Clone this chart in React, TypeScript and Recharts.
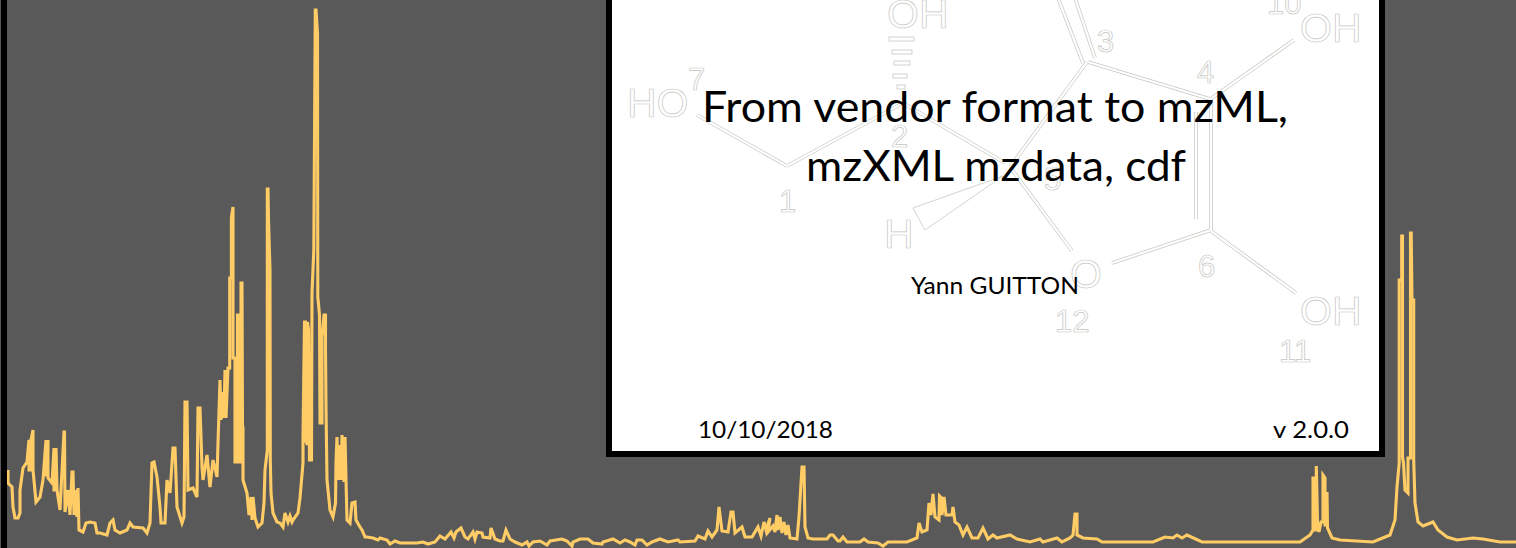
import React from "react";
import { LineChart, Line, XAxis, YAxis } from "recharts";

// Chromatogram trace: scan position and signal intensity.
const scansEarly = [8,8,12,13,15,18,20,20,23,27,29,29,31,31,33,33,36,40,43,46,46,48,48,48,52,54,54,56,56,57,60,64,64.5,65,68,70,72,73,74,76,77,78,79];
const signalEarly = [71,58,54,34,23,23,28,51,73,79,101,71,71,101,111,71,39,44,61,101,66,66,101,63,58,93,51,51,93,51,31,109,109,29,51,26,69,69,26,51,24,53,11];
const scansValley = [83,86,90,95,97,100,107,110,113,115,120,127,130,133,143,147,150,152,154,157,160,161,165,167,170,173,175,177,182,184];
const signalValley = [9,18,19,18,8,8,6,18,21,11,8,11,18,14,13,8,18,78,79,64,34,18,18,61,48,93,93,34,18,24];
const scansRise = [185,187,188,193,197,198,200,202,203,207,210,213,217,218];
const signalRise = [139,139,51,53,44,133,133,74,61,86,54,81,64,98];
const scansPeakA = [220,221,223,224,225,226,228,229.7,229.7,231.4,231.4,233,233,235,235,237.5,237.5,239,239,241,241,242,242.5,243];
const signalPeakA = [161,121,149,123,171,123,173,173,263,263,323,334,183,183,79,79,226,226,79,79,258,258,113,113];
const scansPeakB = [243,247,249,251,252,253,255,258,262,264,265,267.3,267.3,268,268.5,270,270.3,271,273,277,280,283,285,288,290,292,293,298,300,303];
const signalPeakB = [61,48,26,44,21,44,23,14,18,38,71,91,352,352,321,271,81,48,28,19,18,14,28,19,25,19,21,28,43,78];
const scansPeakC = [303,304.5,305.5,305.5,307.5,307.5,308.5,309.5,311.5,312,313.8,315.3,316,317.5,317.8,319.5,320,322,322,324,325.5,325.5,326,327,330,333,335.5,336,337,338,340,341,342,344,345,346,347];
const signalPeakC = [103,219,219,101,96,219,211,81,81,248,291,531,531,508,244,226,118,118,204,226,226,193,134,61,31,24,38,79,104,61,96,61,106,59,104,61,21];
const scansMiddle = [350,352,355,356,360,362,365,367,373,378,380,387,390,395,400,410,417,423,428,435,440,445,451,454,456,461,465,468,473,475,477,482,483,490,491,495,500,503,506,510,515,522,527,529,533,540,547,550,562,567,572,573,580,588,593,602,603,613,620,625,630,635,637,642,647,652,660,668,678,680,695,698,705,708,712,717,719,722,728,731,733,735,742,745,752,758,761,764,766,770,768,773,775,777,778,780,782,784,786,788,790,797,799,802,804,805,808,813,827,830,833,838];
const signalMiddle = [18,38,39,21,14,11,4,4,3,1,3,1,-3,0,-2,-2,-2,-1,-3,-1,5,2,9,3,9,13,4,2,9,2,9,8,4,3,13,2,0,0,11,2,-1,-4,-1,-5,-1,0,-4,0,2,0,-5,-1,2,2,-2,-3,-1,2,-2,1,-1,-4,1,1,-4,-1,2,-1,1,-1,0,5,2,10,4,11,34,10,9,29,29,8,14,4,4,14,5,19,11,23,9,15,9,26,11,24,8,19,6,16,3,2,24,74,74,14,3,2,2,6,6,0];
const scansLate = [840,843,847,860,864,868,878,883,888,907,917,919,922,927,929,931,933,935,939,939.5,941.5,942,944,946,952,953,955,959,963,967,972,978,983,988,993,997,1010,1017,1030,1040,1043,1057,1062,1070,1073,1075,1077,1077,1083,1097,1102,1153,1165,1173,1177,1182,1187,1202,1300,1310,1313,1313,1315,1315,1316.3,1316.3,1317.5,1319,1321,1323,1323,1325,1325,1327,1327,1327.5,1332,1340];
const signalLate = [0,4,-1,-1,2,-1,-2,-5,-1,-1,3,18,9,11,38,26,47,24,21,45,43,26,44,26,26,34,19,16,6,14,3,3,13,2,6,3,6,2,-1,2,-1,3,-1,3,6,27,27,6,3,2,-1,-1,4,3,6,3,6,-1,-1,6,11,63,63,11,11,75,19,9,19,19,66,63,16,16,49,13,3,1];
const scansEnd = [1373,1390,1395,1397,1399.2,1399.2,1401.7,1401.7,1402.5,1402.5,1403.5,1405,1408,1408,1410.5,1410.5,1411.2,1412,1413.7,1413.7,1415,1418,1423,1433,1438,1447,1457,1473,1483,1500,1516];
const signalEnd = [-1,6,21,54,78,261,261,305,305,84,78,51,48,83,83,308,308,241,241,81,38,19,15,19,11,4,1,3,2,-1,-1];

const scans = [...scansEarly, ...scansValley, ...scansRise, ...scansPeakA, ...scansPeakB, ...scansPeakC, ...scansMiddle, ...scansLate, ...scansEnd];
const signal = [...signalEarly, ...signalValley, ...signalRise, ...signalPeakA, ...signalPeakB, ...signalPeakC, ...signalMiddle, ...signalLate, ...signalEnd];
const trace = scans.map((scan, i) => ({ scan, intensity: signal[i] }));

// Title slide text.
const titleLines = ["From vendor format to mzML,", "mzXML mzdata, cdf"];
const author = "Yann GUITTON";
const dateLabel = "10/10/2018";
const versionLabel = "v 2.0.0";

// Molecule drawing behind the title (decorative, hollow outlines).
const bonds: number[][] = [
  [697, 115, 787, 166], [787, 166, 903, 103], [903, 103, 1005, 163], [1010, 167, 1087, 62],
  [1083, 63, 1058, -2], [1095, 58, 1075, -2], [1088, 62, 1210, 99], [1212, 98, 1294, 40],
  [1211, 99, 1211, 230], [1196, 112, 1196, 219], [1211, 230, 1112, 263], [1211, 231, 1296, 293],
  [1010, 167, 1072, 251],
];
const hashes: number[][] = [[889, 39, 914], [892, 52, 912], [894, 63, 910], [893, 76, 907], [897, 87, 905]];
const atoms: [string, number, number][] = [
  ["HO", 627, 117], ["OH", 887, 28], ["OH", 1300, 42], ["OH", 1300, 325], ["H", 884, 248], ["O", 1070, 288],
];
const locants: [string, number, number][] = [
  ["7", 688, 90], ["1", 779, 212], ["2", 891, 147], ["3", 1097, 52], ["4", 1197, 83], ["5", 1044, 190],
  ["6", 1198, 277], ["10", 1267, 14], ["11", 1279, 362], ["12", 1055, 332],
];

const outline = "#c6c6c0";

export default function App() {
  return (
    <div style={{ position: "fixed", left: 0, top: 0, width: 1516, height: 548, overflow: "hidden", background: "#595959" }}>
      <LineChart width={1516} height={548} data={trace} margin={{ top: 0, right: 0, bottom: 0, left: 0 }}>
        <XAxis dataKey="scan" type="number" domain={[0, 1516]} hide />
        <YAxis type="number" domain={[-7, 541]} hide />
        <Line type="linear" dataKey="intensity" stroke="#FFCC66" strokeWidth={3.1} dot={false} isAnimationActive={false} strokeLinejoin="miter" />
      </LineChart>
      <svg width={1516} height={548} style={{ position: "absolute", left: 0, top: 0 }}>
        <rect x={1} y={0} width={6} height={548} fill="#000" />
        <rect x={609} y={-10} width={773} height={464} fill="#fff" stroke="#000" strokeWidth={6} />
        {bonds.map((b, i) => (
          <line key={`o${i}`} x1={b[0]} y1={b[1]} x2={b[2]} y2={b[3]} stroke={outline} strokeWidth={3.6} />
        ))}
        {bonds.map((b, i) => (
          <line key={`i${i}`} x1={b[0]} y1={b[1]} x2={b[2]} y2={b[3]} stroke="#fff" strokeWidth={2.2} />
        ))}
        <polygon points="913,208 925,230 1003,176" fill="#fff" stroke={outline} strokeWidth={0.8} />
        {hashes.map((h, i) => (
          <rect key={i} x={h[0]} y={h[1] - 2} width={h[2] - h[0]} height={4} fill="#fff" stroke={outline} strokeWidth={0.8} />
        ))}
        {atoms.map(([t, x, y], i) => (
          <text key={i} x={x} y={y} fontFamily="Liberation Sans" fontSize={41} fill="#fff" stroke={outline} strokeWidth={0.7}>{t}</text>
        ))}
        {locants.map(([t, x, y], i) => (
          <text key={i} x={x} y={y} fontFamily="Liberation Sans" fontSize={31} fill="#fff" stroke={outline} strokeWidth={0.7}>{t}</text>
        ))}
        <text x={702} y={122} textLength={586} lengthAdjust="spacingAndGlyphs" fontFamily="Lato" fontSize={42} fill="#000">{titleLines[0]}</text>
        <text x={806} y={181} textLength={380} lengthAdjust="spacingAndGlyphs" fontFamily="Lato" fontSize={42} fill="#000">{titleLines[1]}</text>
        <text x={911} y={294} textLength={168} lengthAdjust="spacingAndGlyphs" fontFamily="Lato" fontSize={23} fill="#000">{author}</text>
        <text x={698} y={438} textLength={135} lengthAdjust="spacingAndGlyphs" fontFamily="Lato" fontSize={23} fill="#000">{dateLabel}</text>
        <text x={1273} y={438} textLength={76} lengthAdjust="spacingAndGlyphs" fontFamily="Lato" fontSize={23} fill="#000">{versionLabel}</text>
      </svg>
    </div>
  );
}
